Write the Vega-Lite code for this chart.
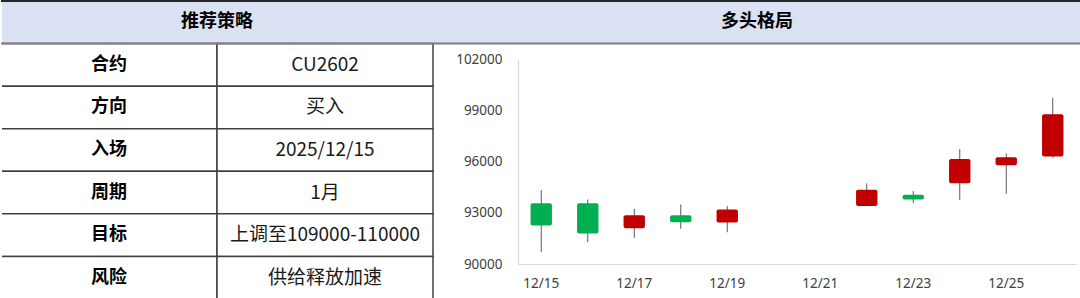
{
  "$schema": "https://vega.github.io/schema/vega-lite/v6.json",
  "padding": 0,
  "spacing": 0,
  "bounds": "flush",
  "config": {
    "view": {"stroke": null},
    "font": "Noto Sans CJK SC"
  },
  "datasets": {
    "table": [
      {"row": "H", "col": "k", "t": ""},
      {"row": "H", "col": "v", "t": ""},
      {"row": "合约", "col": "k", "t": "合约"},
      {"row": "合约", "col": "v", "t": "CU2602"},
      {"row": "方向", "col": "k", "t": "方向"},
      {"row": "方向", "col": "v", "t": "买入"},
      {"row": "入场", "col": "k", "t": "入场"},
      {"row": "入场", "col": "v", "t": "2025/12/15"},
      {"row": "周期", "col": "k", "t": "周期"},
      {"row": "周期", "col": "v", "t": "1月"},
      {"row": "目标", "col": "k", "t": "目标"},
      {"row": "目标", "col": "v", "t": "上调至109000-110000"},
      {"row": "风险", "col": "k", "t": "风险"},
      {"row": "风险", "col": "v", "t": "供给释放加速"}
    ],
    "frame": [
      {"row": "H", "title": "多头格局"}
    ],
    "candles": [
      {"d": "12/15", "open": 93550, "close": 92250, "high": 94330, "low": 90690},
      {"d": "12/16", "open": 93550, "close": 91780, "high": 93780, "low": 91270},
      {"d": "12/17", "open": 92100, "close": 92860, "high": 93230, "low": 91530},
      {"d": "12/18", "open": 92860, "close": 92450, "high": 93490, "low": 92060},
      {"d": "12/19", "open": 92430, "close": 93190, "high": 93390, "low": 91860},
      {"d": "12/22", "open": 93390, "close": 94350, "high": 94720, "low": 93390},
      {"d": "12/23", "open": 94050, "close": 93780, "high": 94270, "low": 93560},
      {"d": "12/24", "open": 94720, "close": 96150, "high": 96720, "low": 93760},
      {"d": "12/25", "open": 95780, "close": 96250, "high": 96480, "low": 94110},
      {"d": "12/26", "open": 96300, "close": 98770, "high": 99730, "low": 96230}
    ]
  },
  "hconcat": [
    {
      "width": 432,
      "height": 298,
      "data": {"name": "table"},
      "layer": [
        {
          "transform": [{"filter": "datum.row === 'H'"}],
          "mark": {"type": "rect", "fill": "#DAE1F3"},
          "encoding": {
            "x": {"field": "col", "type": "nominal", "scale": {"domain": ["k", "v"], "paddingInner": 0, "paddingOuter": 0}, "axis": null},
            "y": {"field": "row", "type": "nominal", "scale": {"domain": ["H", "合约", "方向", "入场", "周期", "目标", "风险"], "paddingInner": 0, "paddingOuter": 0}, "axis": null}
          }
        },
        {
          "transform": [{"filter": "datum.row !== 'H'"}],
          "mark": {"type": "rect", "fill": "#FFFFFF", "stroke": "#404040", "strokeWidth": 1.5},
          "encoding": {
            "x": {"field": "col", "type": "nominal", "axis": null},
            "y": {"field": "row", "type": "nominal", "axis": null}
          }
        },
        {
          "transform": [{"filter": "datum.row === 'H' && datum.col === 'k'"}],
          "mark": {"type": "text", "fontWeight": "bold", "fontSize": 18, "color": "#000000"},
          "encoding": {
            "y": {"field": "row", "type": "nominal", "axis": null},
            "text": {"value": "推荐策略"}
          }
        },
        {
          "transform": [{"filter": "datum.row !== 'H' && datum.col === 'k'"}],
          "mark": {"type": "text", "fontWeight": "bold", "fontSize": 18, "color": "#000000"},
          "encoding": {
            "x": {"field": "col", "type": "nominal", "axis": null},
            "y": {"field": "row", "type": "nominal", "axis": null},
            "text": {"field": "t"}
          }
        },
        {
          "transform": [{"filter": "datum.row !== 'H' && datum.col === 'v'"}],
          "mark": {"type": "text", "fontWeight": "normal", "fontSize": 19, "color": "#1A1A1A"},
          "encoding": {
            "x": {"field": "col", "type": "nominal", "axis": null},
            "y": {"field": "row", "type": "nominal", "axis": null},
            "text": {"field": "t"}
          }
        },
        {
          "transform": [{"filter": "datum.row === 'H' && datum.col === 'k'"}],
          "mark": {"type": "rule", "color": "#FFFFFF", "strokeWidth": 2},
          "encoding": {"x": {"field": "col", "type": "nominal", "bandPosition": 0, "axis": null}}
        },
        {
          "transform": [{"filter": "datum.row === 'H' && datum.col === 'k'"}],
          "mark": {"type": "rule", "color": "#262626", "strokeWidth": 2},
          "encoding": {"y": {"field": "row", "type": "nominal", "bandPosition": 0, "axis": null}}
        },
        {
          "transform": [{"filter": "datum.row === '合约' && datum.col === 'k'"}],
          "mark": {"type": "rule", "color": "#7F7F7F", "strokeWidth": 2},
          "encoding": {"y": {"field": "row", "type": "nominal", "bandPosition": 0, "axis": null}}
        },
        {
          "transform": [{"filter": "datum.row === '风险' && datum.col === 'k'"}],
          "mark": {"type": "rule", "color": "#262626", "strokeWidth": 2},
          "encoding": {"y": {"field": "row", "type": "nominal", "bandPosition": 1, "axis": null}}
        }
      ]
    },
    {
      "width": 648,
      "height": 298,
      "resolve": {"scale": {"x": "independent", "y": "independent"}},
      "layer": [
        {
          "data": {"name": "candles"},
          "layer": [
            {"mark": {"type": "rule", "color": "#595959", "strokeWidth": 1},
             "encoding": {
               "y": {"field": "low", "type": "quantitative"},
               "y2": {"field": "high"}
             }},
            {"mark": {"type": "bar", "width": {"band": 0.46}, "cornerRadius": 2},
             "encoding": {
               "y": {"field": "open", "type": "quantitative"},
               "y2": {"field": "close"},
               "color": {"condition": {"test": "datum.close > datum.open", "value": "#C00000"}, "value": "#00B050"}
             }}
          ],
          "encoding": {
            "x": {
              "field": "d", "type": "ordinal",
              "scale": {"domain": ["12/15", "12/16", "12/17", "12/18", "12/19", "12/20", "12/21", "12/22", "12/23", "12/24", "12/25", "12/26"], "range": [85, 643], "paddingInner": 0, "paddingOuter": 0},
              "axis": {"values": ["12/15", "12/17", "12/19", "12/21", "12/23", "12/25"], "title": null, "ticks": false, "labelAngle": 0, "domainColor": "#D9D9D9", "domainWidth": 1.2, "labelColor": "#404040", "labelFont": "Noto Sans", "labelFontSize": 13.5, "labelPadding": 12, "offset": -35}
            },
            "y": {
              "type": "quantitative",
              "scale": {"domain": [90000, 102000], "range": [263, 58], "zero": false, "nice": false},
              "axis": {"values": [90000, 93000, 96000, 99000, 102000], "format": "d", "title": null, "grid": false, "ticks": false, "domainColor": "#D9D9D9", "domainWidth": 1.2, "labelColor": "#404040", "labelFont": "Noto Sans", "labelFontSize": 13.5, "labelPadding": 16, "labelFlush": false, "offset": -85}
            }
          }
        },
        {
          "data": {"name": "frame"},
          "encoding": {
            "y": {"field": "row", "type": "nominal", "scale": {"domain": ["H", "1", "2", "3", "4", "5", "6"], "paddingInner": 0, "paddingOuter": 0}, "axis": null}
          },
          "layer": [
            {"mark": {"type": "rect", "fill": "#DAE1F3"},
             "encoding": {
               "x": {"datum": 0, "type": "quantitative", "scale": {"domain": [0, 1]}, "axis": null},
               "x2": {"datum": 1}
             }},
            {"mark": {"type": "text", "fontWeight": "bold", "fontSize": 18, "color": "#000000"},
             "encoding": {"text": {"field": "title"}}},
            {"mark": {"type": "rule", "color": "#262626", "strokeWidth": 2},
             "encoding": {"y": {"field": "row", "type": "nominal", "bandPosition": 0}}},
            {"mark": {"type": "rule", "color": "#7F7F7F", "strokeWidth": 2},
             "encoding": {"y": {"field": "row", "type": "nominal", "bandPosition": 1}}},
            {"mark": {"type": "rule", "color": "#262626", "strokeWidth": 2},
             "encoding": {"y": {"datum": "6", "type": "nominal", "bandPosition": 1}}},
            {"mark": {"type": "rule", "color": "#404040", "strokeWidth": 1.5},
             "encoding": {"x": {"datum": 0, "type": "quantitative"}}}
          ]
        }
      ]
    }
  ]
}
